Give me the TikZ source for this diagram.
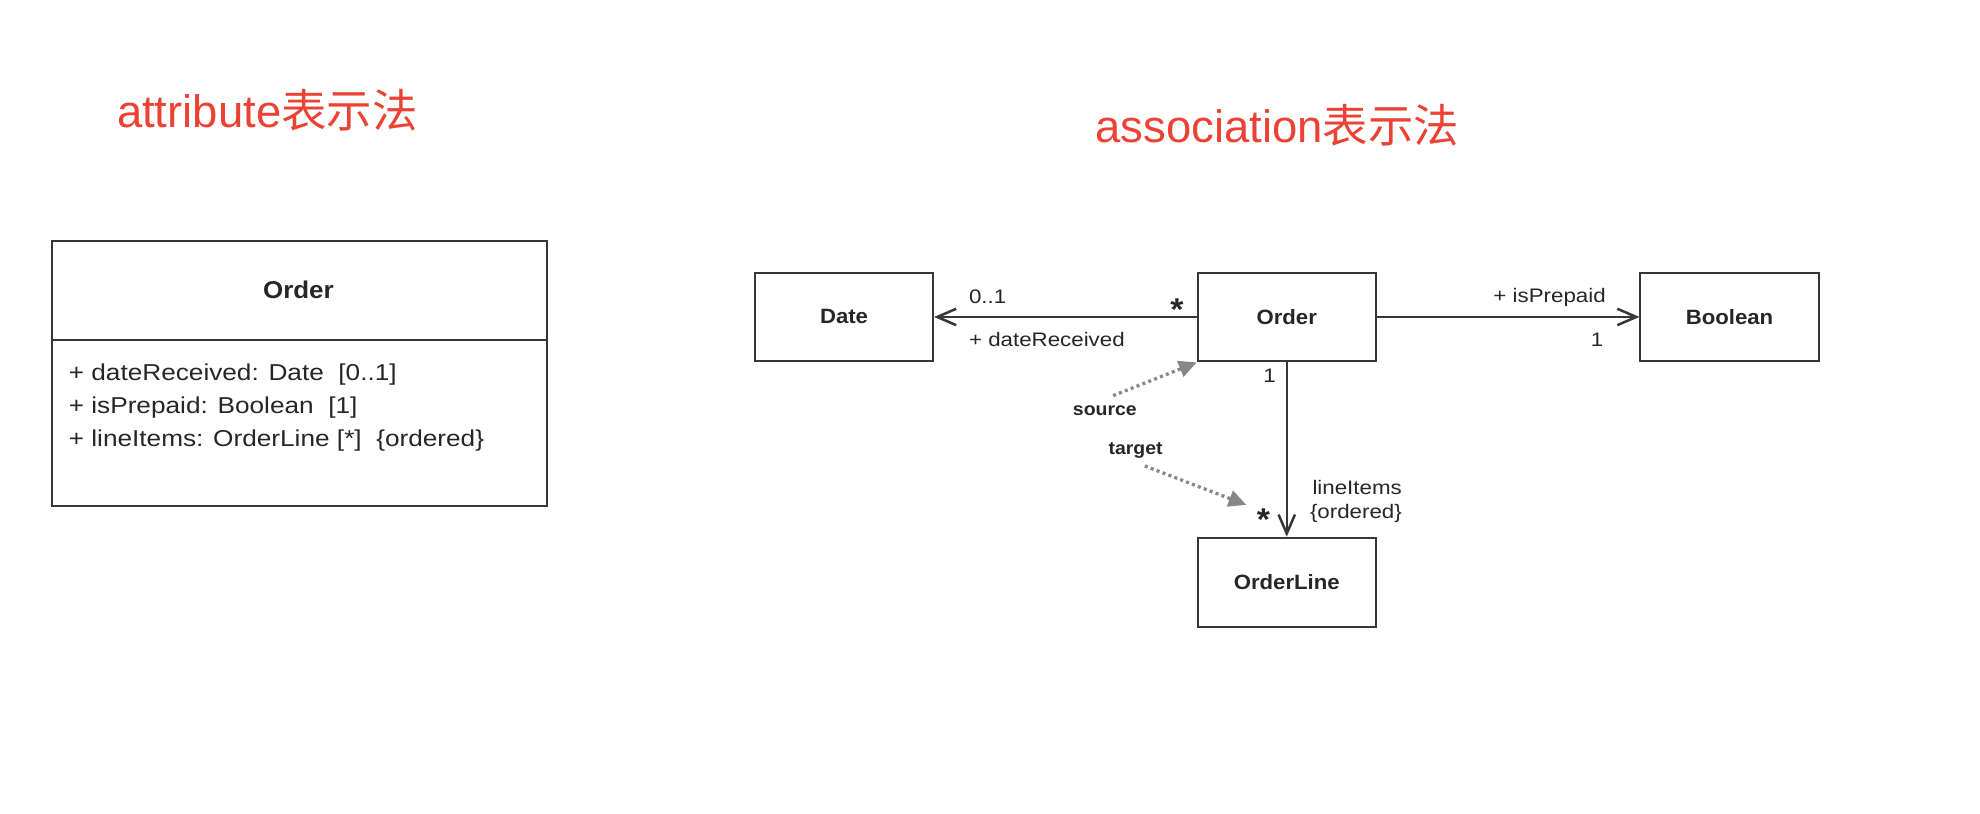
\documentclass[tikz,border=0pt]{standalone}
\usepackage{fontspec}
\setmainfont{Liberation Sans}
\newfontfamily\umlfont[FakeStretch=1.14]{Liberation Sans}
\newfontfamily\umlboldfont[FakeStretch=1.07]{Liberation Sans}
\newfontfamily\headfont{Liberation Sans}
\newfontfamily\headcjkfont{Noto Sans CJK SC}
\usetikzlibrary{positioning, arrows.meta}
\definecolor{headred}{RGB}{236,66,52}
\definecolor{umlline}{RGB}{55,55,55}
\definecolor{notegray}{RGB}{135,135,135}

\begin{document}
\begin{tikzpicture}[auto, x=0.5pt, y=-0.5pt]
    \tikzstyle{every node}=[inner sep=0pt, text=black!85]
    \tikzset{
      cls/.style={draw=umlline, line width=0.8pt, rectangle, minimum width=70.5pt, minimum height=35.2pt, font=\umlboldfont\bfseries\fontsize{8.2}{10}\selectfont},
      attr/.style={anchor=base west, font=\umlfont\fontsize{9.1}{11}\selectfont},
      lbl/.style={font=\umlfont\fontsize{7.75}{9}\selectfont},
      mult/.style={anchor=base, font=\umlboldfont\bfseries\fontsize{12.5}{12}\selectfont},
      role/.style={anchor=base west, font=\umlboldfont\bfseries\fontsize{7.2}{9}\selectfont},
      head/.style={anchor=base west, text=headred, font=\headfont\fontsize{18}{21}\selectfont},
      assoc/.style={draw=umlline, line width=1pt, -{Straight Barb[length=7.5pt,width=6.5pt]}},
      note/.style={draw=notegray, line width=1.3pt, dash pattern=on 1.2pt off 1.3pt, -{Triangle[length=7pt,width=6.5pt]}}
    }
    \useasboundingbox (0,0) rectangle (1568,644.6);

    \node[head] (attrhead) at (92.3,101.1) {attribute{\headcjkfont 表示法}};
    \node[head] (assochead) at (867,113) {association{\headcjkfont 表示法}};

    % attribute notation
    \node[draw=umlline, line width=0.8pt, minimum width=196pt, minimum height=104.9pt, anchor=north west] (attrbox) at (40.4,190) {};
    \node[font=\umlboldfont\bfseries\fontsize{9.6}{11}\selectfont] (attrname) at (236.3,229.9) {Order};
    \coordinate (divider) at (0,269.2);
    \draw[umlline, line width=0.8pt] (attrbox.west |- divider) -- (attrbox.east |- divider);
    \node[attr] (dateattr)    at (54.1,301.5) {+ dateReceived: Date\ \ [0..1]};
    \node[attr] (prepaidattr) at (54.1,327.5) {+ isPrepaid: Boolean\ \ [1]};
    \node[attr] (itemsattr)   at (54.1,353.5) {+ lineItems: OrderLine [*]\ \ \{ordered\}};

    % association notation
    \node[cls]                        (order)     at (1019,251) {Order};
    \node[cls, left = 104pt of order]  (date)      {Date};
    \node[cls, right = 104pt of order] (boolean)   {Boolean};
    \node[cls, below = 69pt of order]  (orderline) {OrderLine};

    \node[lbl, anchor=base west] (dateto)    at (767,240.2)  {0..1};
    \node[lbl, anchor=base west] (daterole)  at (767,274.5)  {+ dateReceived};
    \node[mult]                  (datefrom)  at (932,254)    {*};
    \node[lbl, anchor=base east] (boolrole)  at (1272,239.6) {+ isPrepaid};
    \node[lbl, anchor=base east] (boolto)    at (1270,274.5) {1};
    \node[lbl, anchor=base east] (linefrom)  at (1010.8,302.7) {1};
    \node[mult]                  (lineto)    at (1000.5,420) {*};
    \node[lbl, anchor=base west] (linerole)  at (1039,391.9) {lineItems};
    \node[lbl, anchor=base west] (lineorder) at (1037,410.4) {\{ordered\}};

    \node[role] (source) at (849.3,329.1) {source};
    \node[role] (target) at (877.5,360.3) {target};
    \coordinate (sourcestart) at (881.5,313.3);
    \coordinate (targetstart) at (906.6,369);
    \coordinate (targetend)   at (987,399.8);

    \draw[assoc] (order) to (date);
    \draw[assoc] (order) to (boolean);
    \draw[assoc] (order) to (orderline);
    \draw[note] (sourcestart) to (order.south west);
    \draw[note] (targetstart) to (targetend);
\end{tikzpicture}
\end{document}
